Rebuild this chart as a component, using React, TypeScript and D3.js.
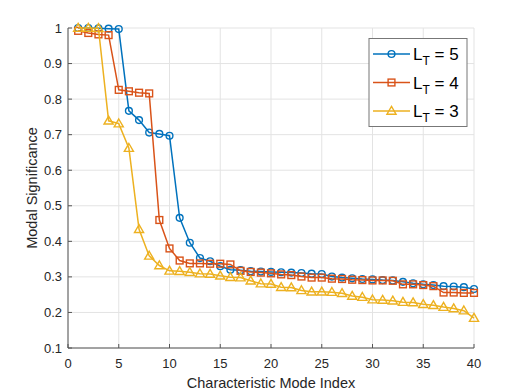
import React from 'react'
import * as d3 from 'd3'

const modeIndex = [1, 2, 3, 4, 5, 6, 7, 8, 9, 10, 11, 12, 13, 14, 15, 16, 17, 18, 19, 20,
  21, 22, 23, 24, 25, 26, 27, 28, 29, 30, 31, 32, 33, 34, 35, 36, 37, 38, 39, 40]

const lt5 = [1.0, 1.0, 0.999, 0.998, 0.997, 0.767, 0.741, 0.706, 0.702, 0.697,
  0.466, 0.396, 0.353, 0.344, 0.33, 0.32, 0.319, 0.316, 0.315, 0.314,
  0.313, 0.312, 0.311, 0.309, 0.308, 0.301, 0.298, 0.296, 0.294, 0.293,
  0.291, 0.29, 0.286, 0.282, 0.279, 0.277, 0.274, 0.273, 0.271, 0.266]

const lt4 = [0.992, 0.986, 0.982, 0.98, 0.826, 0.822, 0.818, 0.816, 0.46, 0.38,
  0.346, 0.338, 0.338, 0.337, 0.337, 0.335, 0.317, 0.314, 0.312, 0.31,
  0.307, 0.305, 0.301, 0.298, 0.298, 0.295, 0.294, 0.292, 0.291, 0.29,
  0.29, 0.289, 0.279, 0.279, 0.277, 0.274, 0.256, 0.256, 0.255, 0.255]

const lt3 = [1.0, 1.0, 0.999, 0.739, 0.731, 0.662, 0.434, 0.359, 0.332, 0.317,
  0.316, 0.313, 0.309, 0.308, 0.303, 0.299, 0.298, 0.289, 0.281, 0.28,
  0.271, 0.27, 0.262, 0.258, 0.258, 0.257, 0.254, 0.246, 0.243, 0.236,
  0.235, 0.233, 0.229, 0.228, 0.223, 0.22, 0.215, 0.211, 0.205, 0.184]

const xTicks = [0, 5, 10, 15, 20, 25, 30, 35, 40]
const yTicks = [0.1, 0.2, 0.3, 0.4, 0.5, 0.6, 0.7, 0.8, 0.9, 1]

const series = [
  {name: '5', values: lt5, color: '#0072BD', marker: 'circle'},
  {name: '4', values: lt4, color: '#D95319', marker: 'square'},
  {name: '3', values: lt3, color: '#EDB120', marker: 'triangle'}
]

const W = 523
const H = 392
const margin = {top: 28, right: 49, bottom: 44, left: 68}
const font = 'Liberation Sans, Arial, Helvetica, sans-serif'

function Marker({kind, x, y, color}: {kind: string; x: number; y: number; color: string}) {
  if (kind === 'circle') {
    return <circle cx={x} cy={y} r={3.4} fill="none" stroke={color} strokeWidth={1.4} />
  }
  if (kind === 'square') {
    return <rect x={x - 3.4} y={y - 3.4} width={6.8} height={6.8} fill="none" stroke={color} strokeWidth={1.4} />
  }
  const p = d3.symbol(d3.symbolTriangle, 36)()
  return <path d={p || ''} transform={`translate(${x},${y + 0.6})`} fill="none" stroke={color} strokeWidth={1.4} />
}

export default function App() {
  const x = d3.scaleLinear().domain([0, 40]).range([margin.left, W - margin.right])
  const y = d3.scaleLinear().domain([0.1, 1]).range([H - margin.bottom, margin.top])

  const line = d3
    .line<number>()
    .x((d, i) => x(modeIndex[i]))
    .y(d => y(d))

  const x0 = x.range()[0]
  const x1 = x.range()[1]
  const y0 = y.range()[0]
  const y1 = y.range()[1]

  const legX = 369
  const legY = 38.5
  const legW = 98
  const legH = 88
  const rowH = 28.5

  return (
    <svg
      width={W}
      height={H}
      style={{position: 'absolute', left: 0, top: 0, background: '#fff'}}
      fontFamily={font}
    >
      <rect x={0} y={0} width={W} height={H} fill="#fff" />
      {/* grid */}
      <g stroke="#e3e3e3" strokeWidth={1}>
        {xTicks.map(t => (
          <line key={'gx' + t} x1={x(t)} x2={x(t)} y1={y0} y2={y1} />
        ))}
        {yTicks.map(t => (
          <line key={'gy' + t} x1={x0} x2={x1} y1={y(t)} y2={y(t)} />
        ))}
      </g>

      {/* axes */}
      <g stroke="#555" strokeWidth={1}>
        <line x1={x0} x2={x0} y1={y0} y2={y1} />
        <line x1={x0} x2={x1} y1={y0} y2={y0} />
        {xTicks.map(t => (
          <line key={'tx' + t} x1={x(t)} x2={x(t)} y1={y0} y2={y0 - 4} />
        ))}
        {yTicks.map(t => (
          <line key={'ty' + t} x1={x0} x2={x0 + 4} y1={y(t)} y2={y(t)} />
        ))}
      </g>
      <g fill="#262626" fontSize={13}>
        {xTicks.map(t => (
          <text key={'lx' + t} x={x(t)} y={y0 + 20} textAnchor="middle">
            {t}
          </text>
        ))}
        {yTicks.map(t => (
          <text key={'ly' + t} x={x0 - 6} y={y(t) + 4.5} textAnchor="end">
            {t}
          </text>
        ))}
      </g>
      <text x={(x0 + x1) / 2} y={388} textAnchor="middle" fontSize={14.5} fill="#262626">
        Characteristic Mode Index
      </text>
      <text
        transform={`translate(37,${(y0 + y1) / 2}) rotate(-90)`}
        textAnchor="middle"
        fontSize={14.5}
        fill="#262626"
      >
        Modal Significance
      </text>

      {/* series */}
      {series.map(s => (
        <g key={s.name}>
          <path d={line(s.values) || ''} fill="none" stroke={s.color} strokeWidth={1.5} />
          {s.values.map((v, i) => (
            <Marker key={i} kind={s.marker} x={x(modeIndex[i])} y={y(v)} color={s.color} />
          ))}
        </g>
      ))}

      {/* legend */}
      <rect x={legX} y={legY} width={legW} height={legH} fill="#fff" stroke="#777" strokeWidth={1} />
      {series.map((s, i) => {
        const cy = legY + 15.5 + i * rowH
        return (
          <g key={'leg' + s.name}>
            <line x1={legX + 4} x2={legX + 41} y1={cy} y2={cy} stroke={s.color} strokeWidth={1.5} />
            <Marker kind={s.marker} x={legX + 22.5} y={cy} color={s.color} />
            <text x={legX + 44} y={cy + 6} fontSize={17} fill="#000">
              L
              <tspan fontSize={12} dy={5}>T</tspan>
              <tspan dy={-5}> = {s.name}</tspan>
            </text>
          </g>
        )
      })}
    </svg>
  )
}
